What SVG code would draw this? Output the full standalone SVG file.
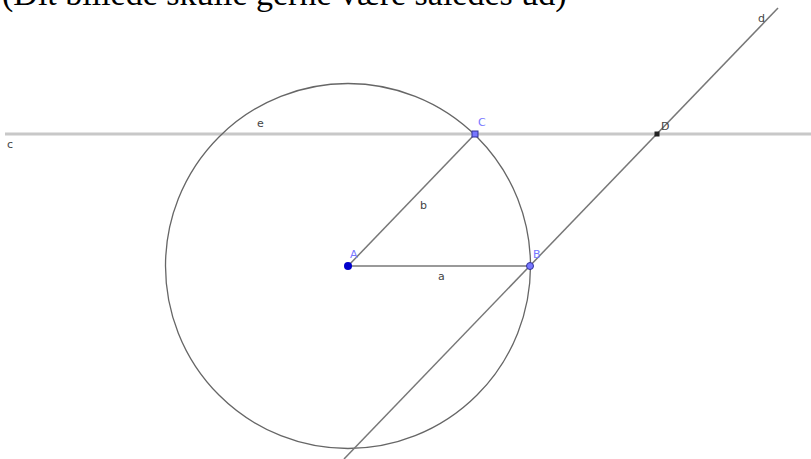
<svg xmlns="http://www.w3.org/2000/svg" width="811" height="459" viewBox="0 0 811 459">
<style>
.lbl{font-family:"DejaVu Sans",sans-serif;font-size:11px;fill:#444}
.blbl{font-family:"DejaVu Sans",sans-serif;font-size:11px;fill:#7777ff}
.seg{stroke:#777;stroke-width:1.5;fill:none}
</style>
<rect width="811" height="459" fill="#fff"/>
<text x="2" y="5" font-family="Liberation Serif, serif" font-size="34" fill="#000">(Dit billede skulle gerne være således ud)</text>
<g id="connectors">
<line id="c" x1="5" y1="134" x2="811" y2="134" stroke="#c8c8c8" stroke-width="3"/>
<circle id="e" cx="348" cy="266" r="182.5" fill="none" stroke="#666" stroke-width="1.3"/>
<line id="d" class="seg" x1="344" y1="459" x2="778" y2="8"/>
<line id="b" class="seg" x1="348" y1="266" x2="475" y2="134"/>
<line id="a" class="seg" x1="348" y1="266" x2="530" y2="266"/>
</g>
<g id="labels">
<text class="lbl" x="7" y="148">c</text>
<text class="lbl" x="257" y="127">e</text>
<text class="lbl" x="420" y="209">b</text>
<text class="lbl" x="438" y="280">a</text>
<text class="lbl" x="758" y="22">d</text>
</g>
<g id="nodeA"><circle cx="348" cy="266" r="4" fill="#0000cc"/><text class="blbl" x="350" y="258">A</text></g>
<g id="nodeB"><circle cx="530" cy="266" r="3.5" fill="#7777ff" stroke="#333399" stroke-width="1"/><text class="blbl" x="533" y="258">B</text></g>
<g id="nodeC"><rect x="472" y="131" width="6" height="6" fill="#7777ff" stroke="#333399" stroke-width="1"/><text class="blbl" x="478" y="126">C</text></g>
<g id="nodeD"><rect x="654.5" y="131.5" width="5" height="5" fill="#222"/><text class="lbl" x="661" y="130">D</text></g>
</svg>
